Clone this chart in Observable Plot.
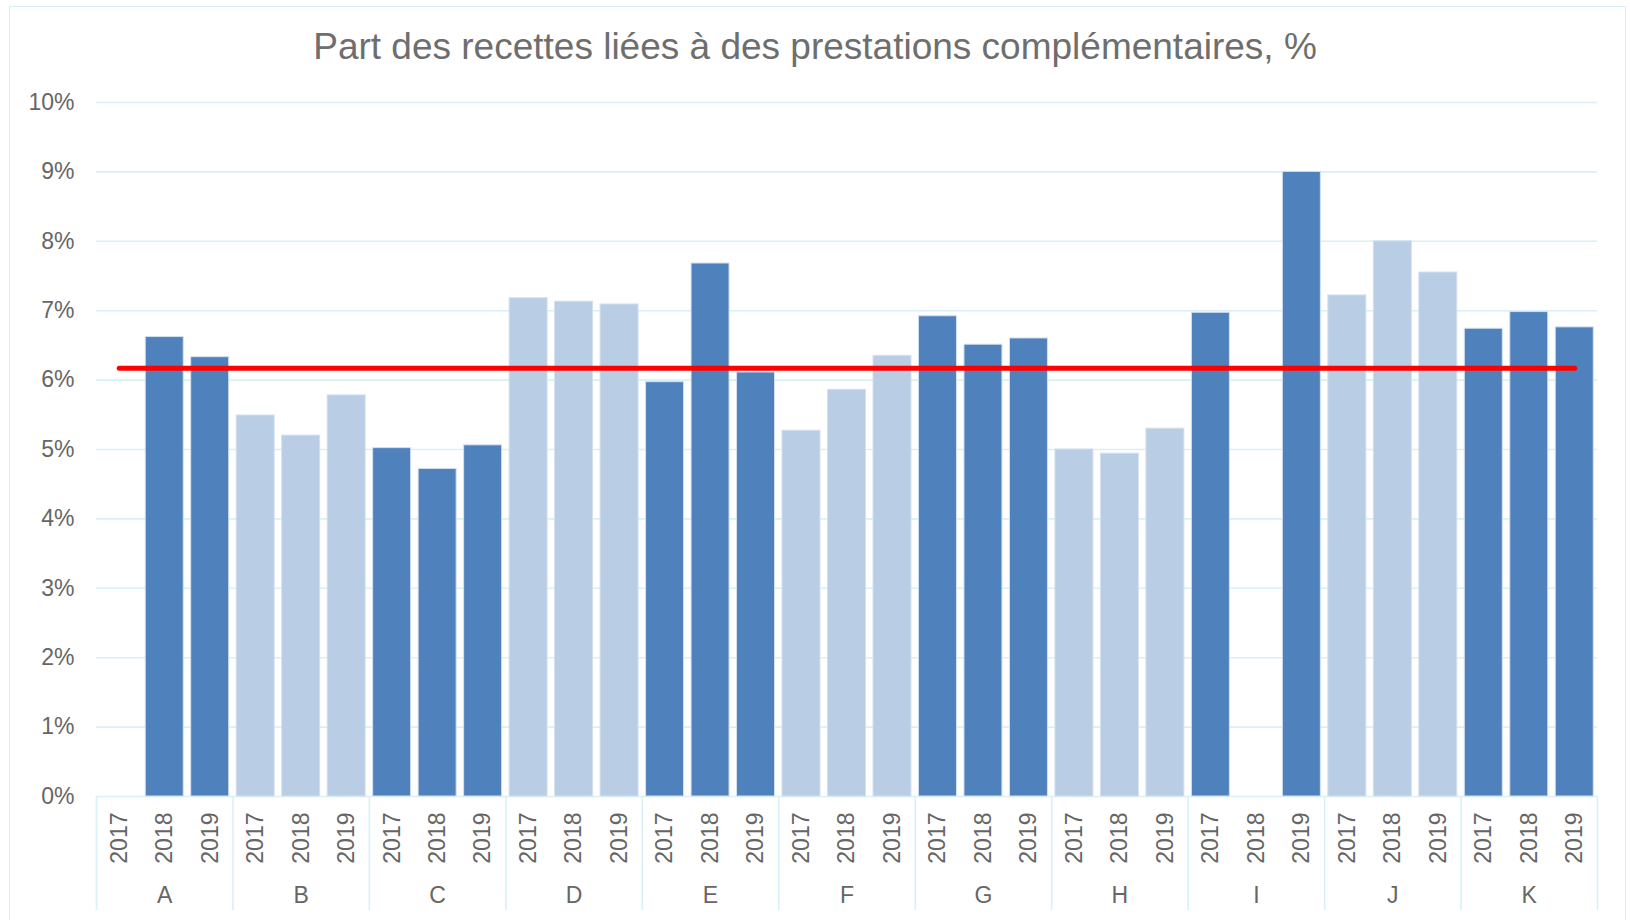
<!DOCTYPE html>
<html><head><meta charset="utf-8">
<script src="https://cdn.jsdelivr.net/npm/d3@7"></script>
<script src="https://cdn.jsdelivr.net/npm/@observablehq/plot@0.6"></script>
<style>
body{margin:0;background:#fff;font-family:"Liberation Sans",Arial,sans-serif;}
#wrap{position:relative;width:1630px;height:920px;overflow:hidden;background:#fff}
#frame{position:absolute;left:9px;top:6px;width:1617px;height:930px;border:1.5px solid #D7EEF6;box-sizing:border-box}
#title{height:80px;box-sizing:border-box;padding-top:28px;font-size:37px;line-height:37px;text-align:center;color:#6E6E6E;white-space:nowrap}
</style></head><body>
<div id="wrap"><div id="frame"></div><div id="title">Part des recettes liées à des prestations complémentaires, %</div><div id="chart"></div></div>
<script>
// ---- data (percent) ----
const groups = ["A","B","C","D","E","F","G","H","I","J","K"];
const years = ["2017","2018","2019"];
const v2017 = [null, 5.49, 5.02, 7.18, 5.97, 5.27, 6.92, 5.00, 6.97, 7.22, 6.74];
const v2018 = [6.62, 5.20, 4.72, 7.13, 7.68, 5.86, 6.51, 4.94, null, 8.00, 6.98];
const v2019 = [6.33, 5.78, 5.06, 7.09, 6.11, 6.35, 6.60, 5.30, 9.00, 7.55, 6.76];
const shade = ["dark","light","dark","light","dark","light","dark","light","dark","light","dark"];
const average = 6.17;
const yTicks = [0,1,2,3,4,5,6,7,8,9,10];

const series = {"2017": v2017, "2018": v2018, "2019": v2019};
const data = [];
groups.forEach((g, i) => years.forEach(y => data.push({key: g + "|" + y, group: g, year: y, value: series[y][i], shade: shade[i]})));
const keys = data.map(d => d.key);

const W = 1630, H = 840, mL = 96, mR = 33, mT = 22, mB = 124;
const step = (W - mL - mR) / keys.length;
const grid = "#D9F0F8";
const txt = "#666666";
const sepDepth = 114 / ((H - mT - mB) / 10);

const chart = Plot.plot({
  width: W, height: H,
  marginLeft: mL, marginRight: mR, marginTop: mT, marginBottom: mB,
  style: {fontSize: "23px", fontFamily: "'Liberation Sans', Arial, sans-serif", color: txt, background: "transparent", overflow: "visible"},
  x: {type: "band", domain: keys, padding: 0, round: false, axis: null},
  y: {domain: [0, 10], axis: null},
  color: {domain: ["dark", "light"], range: ["#4F81BD", "#B9CDE5"]},
  marks: [
    Plot.ruleY(yTicks, {y: d => d, stroke: grid, strokeWidth: 1.6}),
    Plot.axisY(yTicks, {tickSize: 0, tickPadding: 22, tickFormat: d => d + "%", fill: txt, label: null}),
    Plot.barY(data, {x: "key", y: "value", fill: "shade", stroke: "#D4E0EE", strokeWidth: 1, insetLeft: 3.75, insetRight: 3.75}),
    Plot.lineY(keys, {x: d => d, y: () => average, stroke: "#FF0000", strokeWidth: 5, strokeLinecap: "round"}),
    Plot.ruleX(groups, {x: g => g + "|2017", dx: -step / 2, y1: 0, y2: -sepDepth, stroke: grid, strokeWidth: 1.6}),
    Plot.ruleX(["K"], {x: g => g + "|2019", dx: step / 2, y1: 0, y2: -sepDepth, stroke: grid, strokeWidth: 1.6}),
    Plot.text(data, {x: "key", text: "year", frameAnchor: "bottom", lineAnchor: "middle", rotate: -90, textAnchor: "end", dy: 16, fill: txt}),
    Plot.text(groups, {x: g => g + "|2018", text: d => d, frameAnchor: "bottom", lineAnchor: "middle", dy: 99, fill: txt})
  ]
});
document.getElementById("chart").appendChild(chart);
</script>
</body></html>
